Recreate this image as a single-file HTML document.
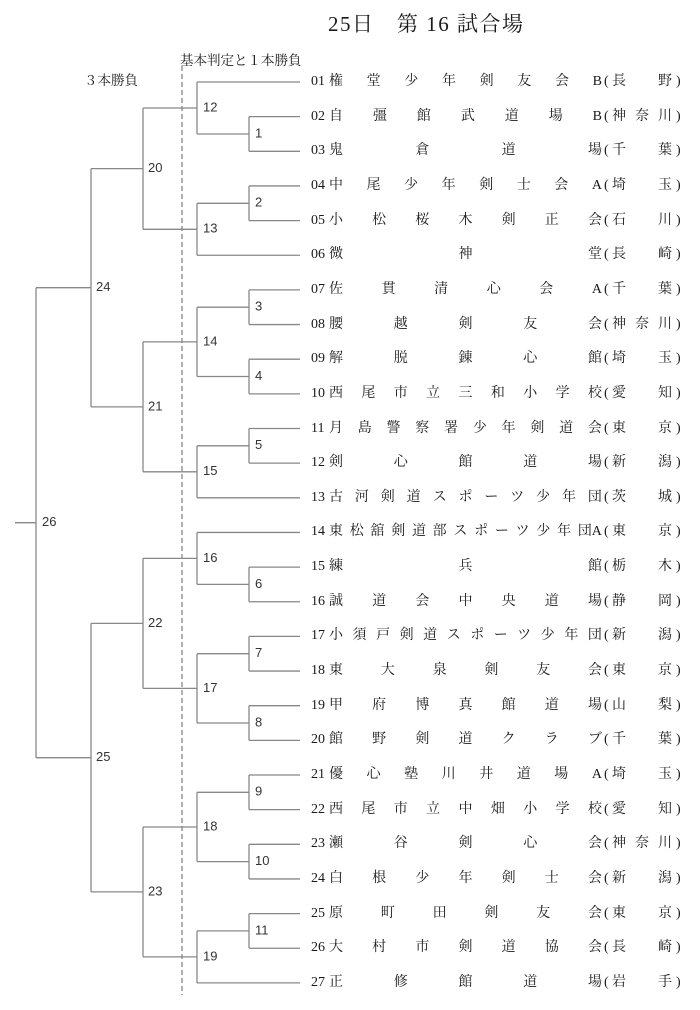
<!DOCTYPE html>
<html><head><meta charset="utf-8"><style>
body{margin:0;width:700px;height:1010px;background:#fff;position:relative;overflow:hidden;font-family:"Liberation Serif","Noto Serif CJK JP",serif;color:#1a1a1a}
.t{position:absolute;font-size:21px;left:328px;top:8px;white-space:pre;letter-spacing:1.5px}
.h{position:absolute;font-size:13.5px;white-space:pre}
.r{position:absolute;left:0;height:20px;width:700px;font-size:14px;line-height:20px}
.n{position:absolute;left:311px}
.m{position:absolute;left:329px;width:273px;display:flex;justify-content:space-between}
.p1{position:absolute;left:604px}
.p{position:absolute;left:612px;width:60px;display:flex;justify-content:space-between}
.p2{position:absolute;left:676px}
svg{position:absolute;left:0;top:0}
svg text{font-family:"Liberation Sans",sans-serif;font-size:13px;fill:#333}
</style></head><body>
<svg width="700" height="1010">
<g stroke="#888" stroke-width="1.3" fill="none">
<line x1="182" y1="66" x2="182" y2="995" stroke-dasharray="5,3"/>
<path d="M197 82H300M249 116.65H300M249 151.3H300M249 185.95H300M249 220.6H300M197 255.25H300M249 289.9H300M249 324.55H300M249 359.2H300M249 393.85H300M249 428.5H300M249 463.15H300M197 497.8H300M197 532.45H300M249 567.1H300M249 601.75H300M249 636.4H300M249 671.05H300M249 705.7H300M249 740.35H300M249 775H300M249 809.65H300M249 844.3H300M249 878.95H300M249 913.6H300M249 948.25H300M197 982.9H300"/>
<path d="M197 134H249M197 203.3H249M197 307.2H249M197 376.5H249M197 445.8H249M197 584.4H249M197 653.7H249M197 723H249M197 792.3H249M197 861.6H249M197 930.9H249"/>
<path d="M249 116.65V151.3M249 185.95V220.6M249 289.9V324.55M249 359.2V393.85M249 428.5V463.15M249 567.1V601.75M249 636.4V671.05M249 705.7V740.35M249 775V809.65M249 844.3V878.95M249 913.6V948.25"/>
<path d="M197 82V134M197 203.3V255.25M197 307.2V376.5M197 445.8V497.8M197 532.45V584.4M197 653.7V723M197 792.3V861.6M197 930.9V982.9"/>
<path d="M143 108H197M143 229.3H197M143 341.9H197M143 471.8H197M143 558.4H197M143 688.4H197M143 827H197M143 956.9H197"/>
<path d="M143 108V229.3M143 341.9V471.8M143 558.4V688.4M143 827V956.9"/>
<path d="M91 168.6H143M91 406.9H143M91 623.4H143M91 891.9H143M91 168.6V406.9M91 623.4V891.9"/>
<path d="M36 287.7H91M36 757.7H91M36 287.7V757.7M15 522.7H36"/>
</g>
<g dominant-baseline="middle">
<text x="255" y="134">1</text><text x="255" y="203.3">2</text><text x="255" y="307.2">3</text><text x="255" y="376.5">4</text><text x="255" y="445.8">5</text><text x="255" y="584.4">6</text><text x="255" y="653.7">7</text><text x="255" y="723">8</text><text x="255" y="792.3">9</text><text x="255" y="861.6">10</text><text x="255" y="930.9">11</text>
<text x="203" y="108">12</text><text x="203" y="229.3">13</text><text x="203" y="341.9">14</text><text x="203" y="471.8">15</text><text x="203" y="558.4">16</text><text x="203" y="688.4">17</text><text x="203" y="827">18</text><text x="203" y="956.9">19</text>
<text x="148" y="168.6">20</text><text x="148" y="406.9">21</text><text x="148" y="623.4">22</text><text x="148" y="891.9">23</text>
<text x="96" y="287.7">24</text><text x="96" y="757.7">25</text><text x="42" y="522.7">26</text>
</g>
</svg>
<div class="t">25日　第 16 試合場</div>
<div class="h" style="left:180px;top:49px">基本判定と１本勝負</div>
<div class="h" style="left:84px;top:69px">３本勝負</div>

<div class="r" style="top:72px"><span class="n">01</span><div class="m"><span>権</span><span>堂</span><span>少</span><span>年</span><span>剣</span><span>友</span><span>会</span><span>B</span></div><span class="p1">(</span><div class="p"><span>長</span><span>野</span></div><span class="p2">)</span></div>
<div class="r" style="top:106.65px"><span class="n">02</span><div class="m"><span>自</span><span>彊</span><span>館</span><span>武</span><span>道</span><span>場</span><span>B</span></div><span class="p1">(</span><div class="p"><span>神</span><span>奈</span><span>川</span></div><span class="p2">)</span></div>
<div class="r" style="top:141.3px"><span class="n">03</span><div class="m"><span>鬼</span><span>倉</span><span>道</span><span>場</span></div><span class="p1">(</span><div class="p"><span>千</span><span>葉</span></div><span class="p2">)</span></div>
<div class="r" style="top:175.95px"><span class="n">04</span><div class="m"><span>中</span><span>尾</span><span>少</span><span>年</span><span>剣</span><span>士</span><span>会</span><span>A</span></div><span class="p1">(</span><div class="p"><span>埼</span><span>玉</span></div><span class="p2">)</span></div>
<div class="r" style="top:210.6px"><span class="n">05</span><div class="m"><span>小</span><span>松</span><span>桜</span><span>木</span><span>剣</span><span>正</span><span>会</span></div><span class="p1">(</span><div class="p"><span>石</span><span>川</span></div><span class="p2">)</span></div>
<div class="r" style="top:245.25px"><span class="n">06</span><div class="m"><span>微</span><span>神</span><span>堂</span></div><span class="p1">(</span><div class="p"><span>長</span><span>崎</span></div><span class="p2">)</span></div>
<div class="r" style="top:279.9px"><span class="n">07</span><div class="m"><span>佐</span><span>貫</span><span>清</span><span>心</span><span>会</span><span>A</span></div><span class="p1">(</span><div class="p"><span>千</span><span>葉</span></div><span class="p2">)</span></div>
<div class="r" style="top:314.55px"><span class="n">08</span><div class="m"><span>腰</span><span>越</span><span>剣</span><span>友</span><span>会</span></div><span class="p1">(</span><div class="p"><span>神</span><span>奈</span><span>川</span></div><span class="p2">)</span></div>
<div class="r" style="top:349.2px"><span class="n">09</span><div class="m"><span>解</span><span>脱</span><span>錬</span><span>心</span><span>館</span></div><span class="p1">(</span><div class="p"><span>埼</span><span>玉</span></div><span class="p2">)</span></div>
<div class="r" style="top:383.85px"><span class="n">10</span><div class="m"><span>西</span><span>尾</span><span>市</span><span>立</span><span>三</span><span>和</span><span>小</span><span>学</span><span>校</span></div><span class="p1">(</span><div class="p"><span>愛</span><span>知</span></div><span class="p2">)</span></div>
<div class="r" style="top:418.5px"><span class="n">11</span><div class="m"><span>月</span><span>島</span><span>警</span><span>察</span><span>署</span><span>少</span><span>年</span><span>剣</span><span>道</span><span>会</span></div><span class="p1">(</span><div class="p"><span>東</span><span>京</span></div><span class="p2">)</span></div>
<div class="r" style="top:453.15px"><span class="n">12</span><div class="m"><span>剣</span><span>心</span><span>館</span><span>道</span><span>場</span></div><span class="p1">(</span><div class="p"><span>新</span><span>潟</span></div><span class="p2">)</span></div>
<div class="r" style="top:487.8px"><span class="n">13</span><div class="m"><span>古</span><span>河</span><span>剣</span><span>道</span><span>ス</span><span>ポ</span><span>ー</span><span>ツ</span><span>少</span><span>年</span><span>団</span></div><span class="p1">(</span><div class="p"><span>茨</span><span>城</span></div><span class="p2">)</span></div>
<div class="r" style="top:522.45px"><span class="n">14</span><div class="m"><span>東</span><span>松</span><span>舘</span><span>剣</span><span>道</span><span>部</span><span>ス</span><span>ポ</span><span>ー</span><span>ツ</span><span>少</span><span>年</span><span>団A</span></div><span class="p1">(</span><div class="p"><span>東</span><span>京</span></div><span class="p2">)</span></div>
<div class="r" style="top:557.1px"><span class="n">15</span><div class="m"><span>練</span><span>兵</span><span>館</span></div><span class="p1">(</span><div class="p"><span>栃</span><span>木</span></div><span class="p2">)</span></div>
<div class="r" style="top:591.75px"><span class="n">16</span><div class="m"><span>誠</span><span>道</span><span>会</span><span>中</span><span>央</span><span>道</span><span>場</span></div><span class="p1">(</span><div class="p"><span>静</span><span>岡</span></div><span class="p2">)</span></div>
<div class="r" style="top:626.4px"><span class="n">17</span><div class="m"><span>小</span><span>須</span><span>戸</span><span>剣</span><span>道</span><span>ス</span><span>ポ</span><span>ー</span><span>ツ</span><span>少</span><span>年</span><span>団</span></div><span class="p1">(</span><div class="p"><span>新</span><span>潟</span></div><span class="p2">)</span></div>
<div class="r" style="top:661.05px"><span class="n">18</span><div class="m"><span>東</span><span>大</span><span>泉</span><span>剣</span><span>友</span><span>会</span></div><span class="p1">(</span><div class="p"><span>東</span><span>京</span></div><span class="p2">)</span></div>
<div class="r" style="top:695.7px"><span class="n">19</span><div class="m"><span>甲</span><span>府</span><span>博</span><span>真</span><span>館</span><span>道</span><span>場</span></div><span class="p1">(</span><div class="p"><span>山</span><span>梨</span></div><span class="p2">)</span></div>
<div class="r" style="top:730.35px"><span class="n">20</span><div class="m"><span>館</span><span>野</span><span>剣</span><span>道</span><span>ク</span><span>ラ</span><span>ブ</span></div><span class="p1">(</span><div class="p"><span>千</span><span>葉</span></div><span class="p2">)</span></div>
<div class="r" style="top:765px"><span class="n">21</span><div class="m"><span>優</span><span>心</span><span>塾</span><span>川</span><span>井</span><span>道</span><span>場</span><span>A</span></div><span class="p1">(</span><div class="p"><span>埼</span><span>玉</span></div><span class="p2">)</span></div>
<div class="r" style="top:799.65px"><span class="n">22</span><div class="m"><span>西</span><span>尾</span><span>市</span><span>立</span><span>中</span><span>畑</span><span>小</span><span>学</span><span>校</span></div><span class="p1">(</span><div class="p"><span>愛</span><span>知</span></div><span class="p2">)</span></div>
<div class="r" style="top:834.3px"><span class="n">23</span><div class="m"><span>瀬</span><span>谷</span><span>剣</span><span>心</span><span>会</span></div><span class="p1">(</span><div class="p"><span>神</span><span>奈</span><span>川</span></div><span class="p2">)</span></div>
<div class="r" style="top:868.95px"><span class="n">24</span><div class="m"><span>白</span><span>根</span><span>少</span><span>年</span><span>剣</span><span>士</span><span>会</span></div><span class="p1">(</span><div class="p"><span>新</span><span>潟</span></div><span class="p2">)</span></div>
<div class="r" style="top:903.6px"><span class="n">25</span><div class="m"><span>原</span><span>町</span><span>田</span><span>剣</span><span>友</span><span>会</span></div><span class="p1">(</span><div class="p"><span>東</span><span>京</span></div><span class="p2">)</span></div>
<div class="r" style="top:938.25px"><span class="n">26</span><div class="m"><span>大</span><span>村</span><span>市</span><span>剣</span><span>道</span><span>協</span><span>会</span></div><span class="p1">(</span><div class="p"><span>長</span><span>崎</span></div><span class="p2">)</span></div>
<div class="r" style="top:972.9px"><span class="n">27</span><div class="m"><span>正</span><span>修</span><span>館</span><span>道</span><span>場</span></div><span class="p1">(</span><div class="p"><span>岩</span><span>手</span></div><span class="p2">)</span></div>
</body></html>
